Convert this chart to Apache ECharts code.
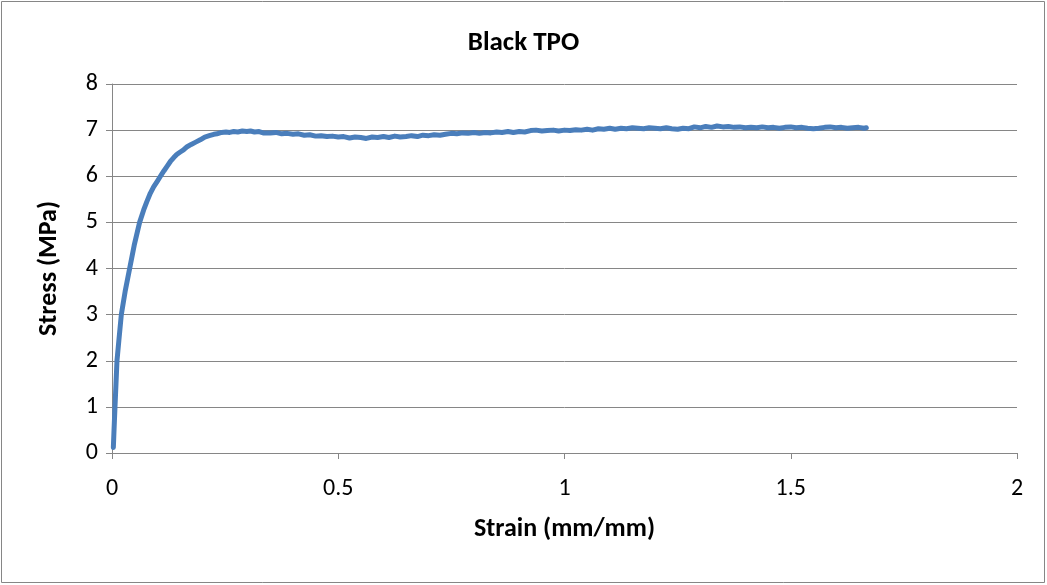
<!DOCTYPE html>
<html>
<head>
<meta charset="utf-8">
<script src="https://cdn.jsdelivr.net/npm/echarts@6/dist/echarts.min.js"></script>
<style>
  html, body { margin: 0; padding: 0; background: #fff; }
  #chart { width: 1047px; height: 585px; }
</style>
</head>
<body>
<div id="chart"></div>
<script>
// Tensile test, Black TPO: engineering strain vs. stress
const chartTitle = 'Black TPO';
const xAxisTitle = 'Strain (mm/mm)';
const yAxisTitle = 'Stress (MPa)';

// Initial elastic rise and yield knee
const strainRise = [0.0030, 0.0045, 0.0066, 0.0088, 0.0110, 0.0150, 0.0206, 0.0290, 0.0390, 0.0490,
  0.0610, 0.0700, 0.0770, 0.0846, 0.0920, 0.1000, 0.1070, 0.1150, 0.1220, 0.1290,
  0.1360, 0.1430, 0.1500, 0.1580, 0.1660, 0.1750, 0.1850, 0.1950, 0.2050, 0.2150,
  0.2250, 0.2320, 0.2420, 0.2520, 0.2600, 0.2690, 0.2780, 0.2880, 0.2980, 0.3060,
  0.3150, 0.3250, 0.3340];
const stressRise = [0.12, 0.50, 1.00, 1.50, 2.00, 2.42, 3.00, 3.50, 4.00, 4.50,
  5.00, 5.27, 5.45, 5.63, 5.77, 5.89, 6.00, 6.12, 6.22, 6.32,
  6.40, 6.47, 6.52, 6.57, 6.64, 6.69, 6.74, 6.79, 6.85, 6.88,
  6.91, 6.92, 6.95, 6.96, 6.95, 6.97, 6.96, 6.98, 6.97, 6.98,
  6.96, 6.97, 6.94];

// Drawing plateau up to fracture
const strainPlateau = [0.350, 0.362, 0.375, 0.387, 0.400, 0.412, 0.425, 0.437, 0.450, 0.462,
  0.475, 0.487, 0.500, 0.512, 0.525, 0.537, 0.550, 0.562, 0.575, 0.587,
  0.600, 0.612, 0.625, 0.637, 0.650, 0.662, 0.675, 0.687, 0.700, 0.712,
  0.725, 0.737, 0.750, 0.762, 0.775, 0.787, 0.800, 0.812, 0.825, 0.837,
  0.850, 0.862, 0.875, 0.887, 0.900, 0.912, 0.925, 0.937, 0.950, 0.962,
  0.975, 0.987, 1.000, 1.012, 1.025, 1.037, 1.050, 1.062, 1.075, 1.087,
  1.100, 1.112, 1.125, 1.137, 1.150, 1.162, 1.175, 1.187, 1.200, 1.212,
  1.225, 1.237, 1.250, 1.262, 1.275, 1.287, 1.300, 1.312, 1.325, 1.337,
  1.350, 1.362, 1.375, 1.387, 1.400, 1.412, 1.425, 1.437, 1.450, 1.462,
  1.475, 1.487, 1.500, 1.512, 1.525, 1.537, 1.550, 1.562, 1.575, 1.587,
  1.600, 1.612, 1.625, 1.637, 1.650, 1.662, 1.667];
const stressPlateau = [6.94, 6.95, 6.92, 6.93, 6.91, 6.92, 6.89, 6.90, 6.87, 6.88,
  6.86, 6.87, 6.85, 6.86, 6.83, 6.85, 6.84, 6.82, 6.85, 6.84,
  6.86, 6.84, 6.87, 6.85, 6.86, 6.88, 6.86, 6.89, 6.88, 6.90,
  6.89, 6.91, 6.93, 6.92, 6.94, 6.93, 6.95, 6.93, 6.95, 6.94,
  6.96, 6.95, 6.97, 6.95, 6.97, 6.96, 6.99, 7.00, 6.98, 6.99,
  7.00, 6.98, 7.00, 6.99, 7.01, 7.00, 7.02, 7.00, 7.03, 7.02,
  7.04, 7.02, 7.04, 7.03, 7.05, 7.04, 7.03, 7.05, 7.04, 7.03,
  7.05, 7.03, 7.02, 7.04, 7.03, 7.07, 7.05, 7.08, 7.06, 7.09,
  7.07, 7.08, 7.06, 7.07, 7.05, 7.06, 7.05, 7.07, 7.05, 7.06,
  7.04, 7.06, 7.07, 7.05, 7.06, 7.04, 7.03, 7.04, 7.06, 7.07,
  7.05, 7.06, 7.04, 7.05, 7.06, 7.04, 7.05];

const xTicks = { min: 0, max: 2, interval: 0.5 };
const yTicks = { min: 0, max: 8, interval: 1 };

const strain = strainRise.concat(strainPlateau);
const stress = stressRise.concat(stressPlateau);
const points = strain.map((x, i) => [x, stress[i]]);

const FONT = "Carlito, 'Liberation Sans Narrow', 'Liberation Sans', sans-serif";
const AXIS_GRAY = '#868686';

const chart = echarts.init(document.getElementById('chart'), null, { renderer: 'canvas' });
chart.setOption({
  backgroundColor: '#ffffff',
  animation: false,
  title: {
    text: chartTitle,
    left: 'center',
    top: 25,
    textStyle: { fontFamily: FONT, fontSize: 27, fontWeight: 'bold', color: '#000' }
  },
  graphic: [{
    type: 'rect',
    shape: { x: 1.5, y: 1.5, width: 1043, height: 581 },
    style: { fill: 'none', stroke: AXIS_GRAY, lineWidth: 1 },
    silent: true
  }],
  grid: { left: 112, right: 30, top: 84, bottom: 132 },
  xAxis: {
    type: 'value',
    min: xTicks.min, max: xTicks.max, interval: xTicks.interval,
    name: xAxisTitle,
    nameLocation: 'middle',
    nameGap: 63,
    nameTextStyle: { fontFamily: FONT, fontSize: 26, fontWeight: 'bold', color: '#000' },
    axisLine: { show: true, lineStyle: { color: AXIS_GRAY, width: 1 } },
    axisTick: { show: true, length: 6, inside: false, lineStyle: { color: AXIS_GRAY } },
    axisLabel: { margin: 24, fontFamily: FONT, fontSize: 24, color: '#000' },
    splitLine: { show: false }
  },
  yAxis: {
    type: 'value',
    min: yTicks.min, max: yTicks.max, interval: yTicks.interval,
    name: yAxisTitle,
    nameLocation: 'middle',
    nameGap: 50,
    nameRotate: 90,
    nameTextStyle: { fontFamily: FONT, fontSize: 26, fontWeight: 'bold', color: '#000' },
    axisLine: { show: true, lineStyle: { color: AXIS_GRAY, width: 1 } },
    axisTick: { show: true, length: 6, inside: false, lineStyle: { color: AXIS_GRAY } },
    axisLabel: { margin: 14, fontFamily: FONT, fontSize: 24, color: '#000' },
    splitLine: { show: true, lineStyle: { color: AXIS_GRAY, width: 1 } }
  },
  series: [{
    type: 'line',
    data: points,
    showSymbol: false,
    smooth: false,
    lineStyle: { color: '#4a7ebb', width: 5, cap: 'round', join: 'round' },
    z: 3
  }]
});
</script>
</body>
</html>
